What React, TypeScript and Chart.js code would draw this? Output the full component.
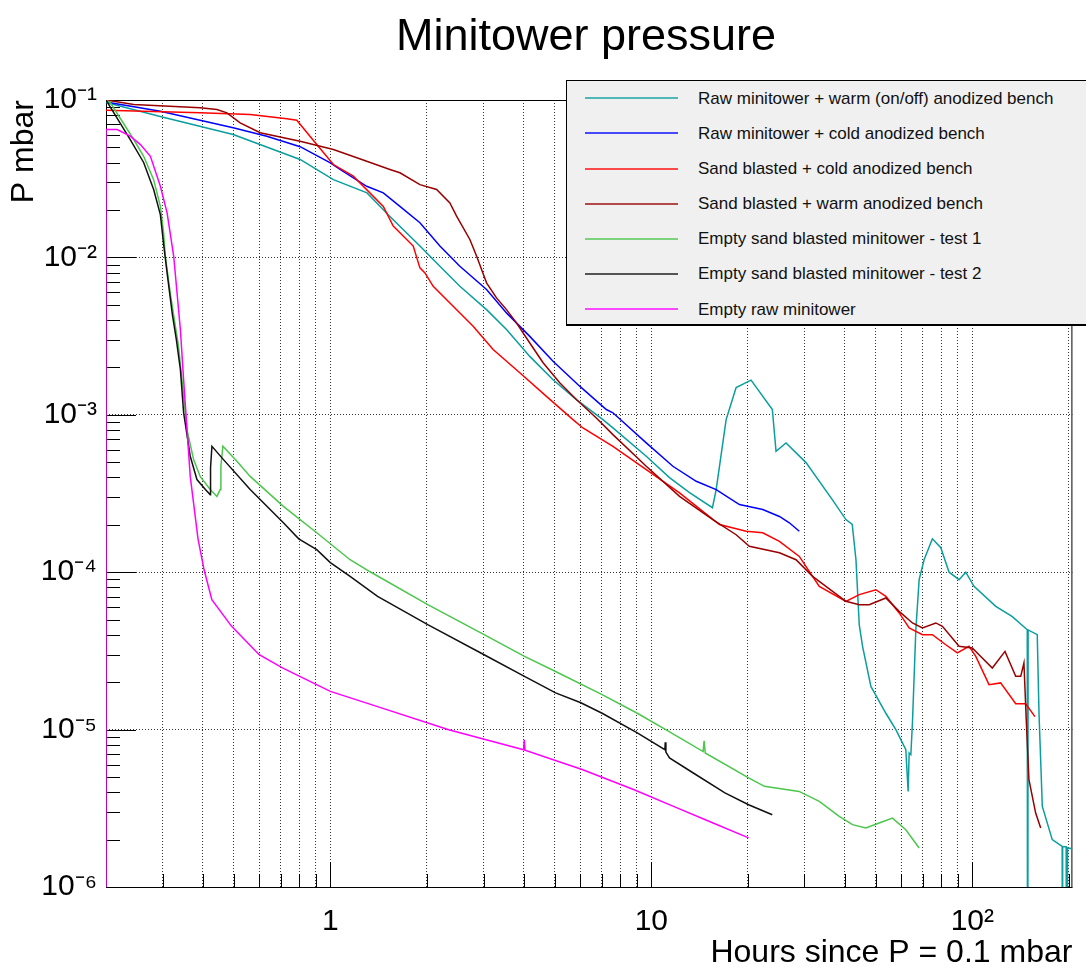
import React, { useEffect, useRef } from 'react';
import { Chart, registerables } from 'chart.js';

Chart.register(...registerables);

const FONT = "'Liberation Sans', Arial, Helvetica, sans-serif";

// ---- axis ticks ----
const X_TICKS = [0.2, 0.3, 0.4, 0.5, 0.6, 0.7, 0.8, 0.9, 1, 2, 3, 4, 5, 6, 7, 8, 9, 10, 20, 30, 40, 50, 60, 70, 80, 90, 100, 200];
const X_MAJOR = [1, 10, 100];
const X_LABELS = ['1', '10', '10²'];
const Y_DECADES = [1e-6, 1e-5, 1e-4, 1e-3, 1e-2, 1e-1];
const Y_LABELS = ['10⁻⁶', '10⁻⁵', '10⁻⁴', '10⁻³', '10⁻²', '10⁻¹'];

// ---- series (hours, mbar) ----
const TEAL_X = [0.2, 0.295, 0.498, 0.805, 1.022, 1.301, 1.533, 1.901, 2.194, 2.532, 3.066, 3.538, 4.181, 4.94, 5.84, 7.066, 7.591, 9.641, 11.39, 13.15, 15.5, 15.92, 17.1, 18.37, 20.45, 23.82, 24.46, 26.28, 30.33, 36.62, 40.38, 42.25, 43.4, 44.43, 45.5, 48.3, 53.78, 57.78, 62.06, 63.1, 63.56, 64.34, 65.08, 66.68, 68.28, 70.75, 75.09, 79.75, 84.64, 90.92, 95.38, 101.2, 118.3, 132.9, 148.3, 148.7, 149.2, 159.3, 161.3, 165.2, 177.4, 190.5, 190.8, 191.5, 196, 197, 198, 205];
const TEAL_Y = [0.0964, 0.0785, 0.0604, 0.0419, 0.0312, 0.0257, 0.0182, 0.0118, 0.00878, 0.00655, 0.00466, 0.00348, 0.00235, 0.00167, 0.00125, 0.000932, 0.000825, 0.000545, 0.000399, 0.00032, 0.000257, 0.000335, 0.000932, 0.00149, 0.00166, 0.00108, 0.000586, 0.000663, 0.000497, 0.000289, 0.000216, 0.000201, 0.00012, 4.64e-5, 3.38e-5, 1.88e-5, 1.27e-5, 9.99e-6, 7.45e-6, 4.05e-6, 7.1e-6, 6.93e-6, 1.11e-5, 4.31e-5, 8.97e-5, 0.00012, 0.000163, 0.000143, 0.0001, 8.97e-5, 0.0001, 8.13e-5, 6.07e-5, 5.24e-5, 4.31e-5, 1e-8, 4.3e-5, 4.01e-5, 1.28e-5, 3.25e-6, 2.0e-6, 1.81e-6, 1e-8, 1.8e-6, 1.8e-6, 1e-8, 1.77e-6, 1.75e-6];

const BLUE_X = [0.2, 0.2064, 0.2954, 0.498, 0.634, 0.805, 1.0, 1.072, 1.298, 1.462, 1.647, 1.901, 2.194, 2.532, 3.066, 3.538, 4.181, 4.94, 5.98, 7.24, 7.591, 9.641, 11.67, 13.8, 15.92, 18.81, 22.23, 25.06, 26.91, 28.9];
const BLUE_Y = [0.1, 0.096, 0.0849, 0.0666, 0.0589, 0.0505, 0.0399, 0.0362, 0.0283, 0.0257, 0.0211, 0.0166, 0.0118, 0.00878, 0.00625, 0.00444, 0.00315, 0.00219, 0.00152, 0.00108, 0.00103, 0.000663, 0.000471, 0.000378, 0.000335, 0.000269, 0.00025, 0.000226, 0.000206, 0.000182];

const RED_X = [0.2, 0.393, 0.5626, 0.732, 0.786, 0.907, 1.022, 1.179, 1.462, 1.57, 1.812, 1.901, 1.971, 2.091, 2.413, 2.785, 3.214, 3.891, 4.712, 5.699, 6.121, 7.591, 9.641, 12.24, 16.3, 19.74, 22.23, 25.06, 28.9, 33.36, 40.38, 44.43, 50.06, 53.78, 59.16, 63.56, 69.92, 75.09, 82.68, 89.82, 97.66, 102.5, 112.7, 122.5, 136.5, 146.6, 156.7];
const RED_Y = [0.0861, 0.0829, 0.0809, 0.0759, 0.0744, 0.0521, 0.0389, 0.0328, 0.0211, 0.0158, 0.0118, 0.00858, 0.00797, 0.00655, 0.00489, 0.00365, 0.0026, 0.00185, 0.00131, 0.000932, 0.000825, 0.000631, 0.000448, 0.000319, 0.000201, 0.000182, 0.000178, 0.000157, 0.000126, 8.13e-5, 6.53e-5, 7.2e-5, 7.74e-5, 7.02e-5, 5.51e-5, 4.42e-5, 4.01e-5, 4.01e-5, 3.46e-5, 3.07e-5, 3.38e-5, 2.92e-5, 1.93e-5, 1.98e-5, 1.46e-5, 1.46e-5, 1.21e-5];

const BROWN_X = [0.2, 0.244, 0.393, 0.4432, 0.4762, 0.5237, 0.6045, 0.805, 1.022, 1.298, 1.533, 1.647, 1.901, 2.143, 2.357, 2.473, 2.72, 2.854, 3.066, 3.293, 3.538, 3.8, 4.181, 4.6, 5.182, 5.84, 6.739, 7.591, 9.641, 12.24, 15.54, 18.37, 20.2, 25.06, 28.23, 31.79, 40.38, 44.43, 47.72, 53.78, 59.16, 65.08, 69.92, 76.95, 80.68, 90.92, 100, 104.9, 115.4, 126.4, 136.5, 141.5, 144.8, 147.2, 150.1, 157.5, 163.3];
const BROWN_Y = [0.1, 0.0936, 0.0892, 0.087, 0.0829, 0.0716, 0.0619, 0.0547, 0.0485, 0.0408, 0.0362, 0.0345, 0.029, 0.027, 0.0222, 0.0183, 0.013, 0.0102, 0.00689, 0.00553, 0.00466, 0.00384, 0.00286, 0.00214, 0.0016, 0.00125, 0.000955, 0.000748, 0.000471, 0.000303, 0.000216, 0.000173, 0.000146, 0.000133, 0.00012, 9.41e-5, 6.53e-5, 6.22e-5, 6.22e-5, 6.86e-5, 5.64e-5, 4.76e-5, 4.42e-5, 4.76e-5, 4.53e-5, 3.38e-5, 3.3e-5, 2.99e-5, 2.46e-5, 3.14e-5, 2.18e-5, 2.18e-5, 2.65e-5, 1.16e-5, 4.8e-6, 2.95e-6, 2.37e-6];

const GREEN_X = [0.2, 0.2064, 0.244, 0.262, 0.2815, 0.2954, 0.3024, 0.306, 0.317, 0.329, 0.336, 0.345, 0.3575, 0.375, 0.393, 0.4225, 0.4432, 0.4538, 0.456, 0.4626, 0.5115, 0.5626, 0.714, 0.907, 1.152, 1.326, 2.011, 3.013, 4.025, 5.032, 7.025, 9.04, 11.09, 14.5, 14.6, 14.72, 20.09, 22.5, 28.86, 33.36, 38.49, 42.34, 46.6, 51.26, 56.4, 62.06, 68.28];
const GREEN_Y = [0.1, 0.096, 0.0561, 0.0439, 0.0312, 0.0211, 0.0143, 0.0102, 0.00595, 0.00365, 0.00279, 0.00167, 0.000805, 0.000519, 0.000406, 0.000335, 0.000303, 0.000335, 0.000471, 0.000631, 0.000507, 0.000406, 0.000262, 0.000178, 0.00012, 0.000101, 6.22e-5, 4.01e-5, 2.92e-5, 2.34e-5, 1.67e-5, 1.27e-5, 9.99e-6, 7.25e-6, 8.5e-6, 7.1e-6, 4.93e-6, 4.36e-6, 4.05e-6, 3.5e-6, 2.81e-6, 2.49e-6, 2.37e-6, 2.55e-6, 2.74e-6, 2.31e-6, 1.77e-6];

const BLACK_X = [0.2, 0.238, 0.262, 0.2815, 0.2954, 0.3024, 0.3105, 0.322, 0.3312, 0.341, 0.349, 0.366, 0.384, 0.408, 0.4225, 0.4234, 0.4276, 0.4646, 0.5626, 0.714, 0.797, 0.907, 1.0, 1.152, 1.403, 2.011, 3.013, 4.025, 5.032, 6.031, 7.025, 9.04, 11.02, 11.05, 11.1, 11.39, 13.51, 16.95, 20.09, 23.81];
const BLACK_Y = [0.1, 0.0561, 0.0401, 0.027, 0.0187, 0.0121, 0.00778, 0.00433, 0.00301, 0.00194, 0.00103, 0.000545, 0.000388, 0.000335, 0.000311, 0.000462, 0.000631, 0.000519, 0.000335, 0.000206, 0.000163, 0.000139, 0.000115, 9.41e-5, 7.02e-5, 4.64e-5, 2.99e-5, 2.18e-5, 1.71e-5, 1.48e-5, 1.27e-5, 9.52e-6, 7.45e-6, 8.3e-6, 7.2e-6, 6.6e-6, 5.3e-6, 3.96e-6, 3.33e-6, 2.88e-6];

const MAGENTA_X = [0.2, 0.2, 0.2166, 0.238, 0.256, 0.275, 0.2954, 0.31, 0.325, 0.341, 0.349, 0.366, 0.387, 0.404, 0.4273, 0.4925, 0.6002, 0.7115, 1.0, 1.403, 2.337, 4.0, 4.02, 4.04, 6.117, 8.837, 11.72, 15.57, 20.09];
const MAGENTA_Y = [1e-8, 0.0649, 0.0649, 0.0589, 0.0521, 0.0439, 0.0283, 0.0192, 0.0102, 0.00348, 0.00167, 0.000406, 0.000163, 0.000104, 6.69e-5, 4.53e-5, 2.99e-5, 2.46e-5, 1.75e-5, 1.4e-5, 9.99e-6, 7.45e-6, 8.6e-6, 7.4e-6, 5.56e-6, 4.15e-6, 3.25e-6, 2.55e-6, 2.05e-6];

const SERIES_NAMES = [
  'Raw minitower + warm (on/off) anodized bench',
  'Raw minitower + cold anodized bench',
  'Sand blasted + cold anodized bench',
  'Sand blasted + warm anodized bench',
  'Empty sand blasted minitower - test 1',
  'Empty sand blasted minitower - test 2',
  'Empty raw minitower',
];
const SERIES_COLORS = ['#0b9e9e', '#0000ff', '#ff0000', '#990000', '#4cc64c', '#111111', '#ff00ff'];
const SERIES_X = [TEAL_X, BLUE_X, RED_X, BROWN_X, GREEN_X, BLACK_X, MAGENTA_X];
const SERIES_Y = [TEAL_Y, BLUE_Y, RED_Y, BROWN_Y, GREEN_Y, BLACK_Y, MAGENTA_Y];

const Y_TICKS: number[] = [];
Y_DECADES.forEach((d) => {
  for (let m = 1; m <= 9; m++) {
    const v = m * d;
    if (v <= 0.1000001) Y_TICKS.push(v);
  }
});
const isDecade = (v: number) => Y_DECADES.some((d) => Math.abs(v / d - 1) < 1e-6);

const rootAxes = {
  id: 'rootAxes',
  beforeDatasetsDraw(chart: any) {
    const { ctx, chartArea: a, scales } = chart;
    const x = scales.x;
    const y = scales.y;
    ctx.save();
    ctx.strokeStyle = '#000';
    ctx.lineWidth = 1;
    ctx.setLineDash([]);
    ctx.beginPath();
    X_TICKS.forEach((v) => {
      if (v <= 0.2) return;
      const px = Math.round(x.getPixelForValue(v)) + 0.5;
      const len = X_MAJOR.includes(v) ? 25 : 13;
      ctx.moveTo(px, a.bottom);
      ctx.lineTo(px, a.bottom - len);
    });
    Y_TICKS.forEach((v) => {
      const py = Math.round(y.getPixelForValue(v)) + 0.5;
      const len = isDecade(v) ? 30 : 14;
      ctx.moveTo(a.left, py);
      ctx.lineTo(a.left + len, py);
    });
    ctx.stroke();
    ctx.strokeRect(a.left + 0.5, a.top + 0.5, a.right - a.left - 1, a.bottom - a.top);
    ctx.restore();
  },
};

export default function App() {
  const ref = useRef<HTMLCanvasElement>(null);

  useEffect(() => {
    const datasets = SERIES_NAMES.map((name, i) => ({
      label: name,
      data: SERIES_X[i].map((xv, j) => ({ x: xv, y: SERIES_Y[i][j] })),
      borderColor: SERIES_COLORS[i],
      backgroundColor: SERIES_COLORS[i],
      borderWidth: 1.5,
      pointRadius: 0,
      showLine: true,
      tension: 0,
      fill: false,
      order: SERIES_NAMES.length - i,
    }));

    const chart = new Chart(ref.current as HTMLCanvasElement, {
      type: 'scatter',
      data: { datasets },
      plugins: [rootAxes],
      options: {
        animation: false,
        responsive: false,
        maintainAspectRatio: false,
        layout: { padding: { top: 100, right: 11, left: 0, bottom: 0 } },
        plugins: {
          legend: { display: false },
          title: { display: false },
          tooltip: { enabled: false },
        },
        scales: {
          x: {
            type: 'logarithmic',
            position: 'bottom',
            min: 0.2,
            max: 205,
            afterBuildTicks: (s: any) => {
              s.ticks = X_TICKS.map((v) => ({ value: v }));
            },
            afterFit: (s: any) => {
              s.height = 83;
            },
            ticks: {
              autoSkip: false,
              maxRotation: 0,
              minRotation: 0,
              padding: 17,
              color: '#000',
              font: { family: FONT, size: 30 },
              callback: (v: any) => {
                const k = X_MAJOR.indexOf(Number(v));
                return k >= 0 ? X_LABELS[k] : '';
              },
            },
            grid: { color: 'rgba(0,0,0,0.8)', lineWidth: 1, drawTicks: false },
            border: { display: false, dash: [1, 2] },
            title: {
              display: true,
              text: 'Hours since P = 0.1 mbar',
              align: 'end',
              color: '#000',
              font: { family: FONT, size: 32 },
              padding: { top: 0, bottom: -2 },
            },
          },
          y: {
            type: 'logarithmic',
            position: 'left',
            min: 1e-6,
            max: 0.1,
            afterBuildTicks: (s: any) => {
              s.ticks = Y_TICKS.map((v) => ({ value: v }));
            },
            afterFit: (s: any) => {
              s.width = 106;
            },
            ticks: {
              autoSkip: false,
              padding: 9,
              color: '#000',
              font: { family: FONT, size: 30 },
              callback: (v: any) => {
                const k = Y_DECADES.findIndex((d) => Math.abs(Number(v) / d - 1) < 1e-6);
                return k >= 0 ? Y_LABELS[k] : '';
              },
            },
            grid: {
              color: (ctx: any) => (ctx.tick && isDecade(ctx.tick.value) ? 'rgba(0,0,0,0.8)' : 'rgba(0,0,0,0)'),
              lineWidth: 1,
              drawTicks: false,
            },
            border: { display: false, dash: [1, 2] },
            title: {
              display: true,
              text: 'P mbar',
              align: 'end',
              color: '#000',
              font: { family: FONT, size: 32 },
              padding: { top: 5, bottom: 0 },
            },
          },
        },
      } as any,
    });
    return () => chart.destroy();
  }, []);

  const rowY = (i: number) => 98.3 + 35.17 * i;

  return (
    <div style={{ position: 'absolute', left: 0, top: 0, width: 1086, height: 970, background: '#fff', overflow: 'hidden', fontFamily: FONT }}>
      <canvas ref={ref} width={1086} height={970} style={{ display: 'block', width: 1086, height: 970 }} />
      <div style={{ position: 'absolute', left: 386, top: 12, width: 400, textAlign: 'center', fontSize: 45, lineHeight: '45px', whiteSpace: 'nowrap', color: '#000' }}>
        Minitower pressure
      </div>
      <div style={{ position: 'absolute', left: 566, top: 80, width: 530, height: 246, boxSizing: 'border-box', background: '#f0f0f0', border: '1px solid #000', borderBottomWidth: 2 }} />
      {SERIES_NAMES.map((name, i) => (
        <React.Fragment key={name}>
          <div style={{ position: 'absolute', left: 585, top: rowY(i) - 1, width: 93, height: 0, borderTop: `2px solid ${SERIES_COLORS[i]}`, opacity: 0.7 }} />
          <div style={{ position: 'absolute', left: 698, top: rowY(i) - 9.7, fontSize: 17, lineHeight: '20px', whiteSpace: 'nowrap', color: '#111' }}>
            {name}
          </div>
        </React.Fragment>
      ))}
    </div>
  );
}
